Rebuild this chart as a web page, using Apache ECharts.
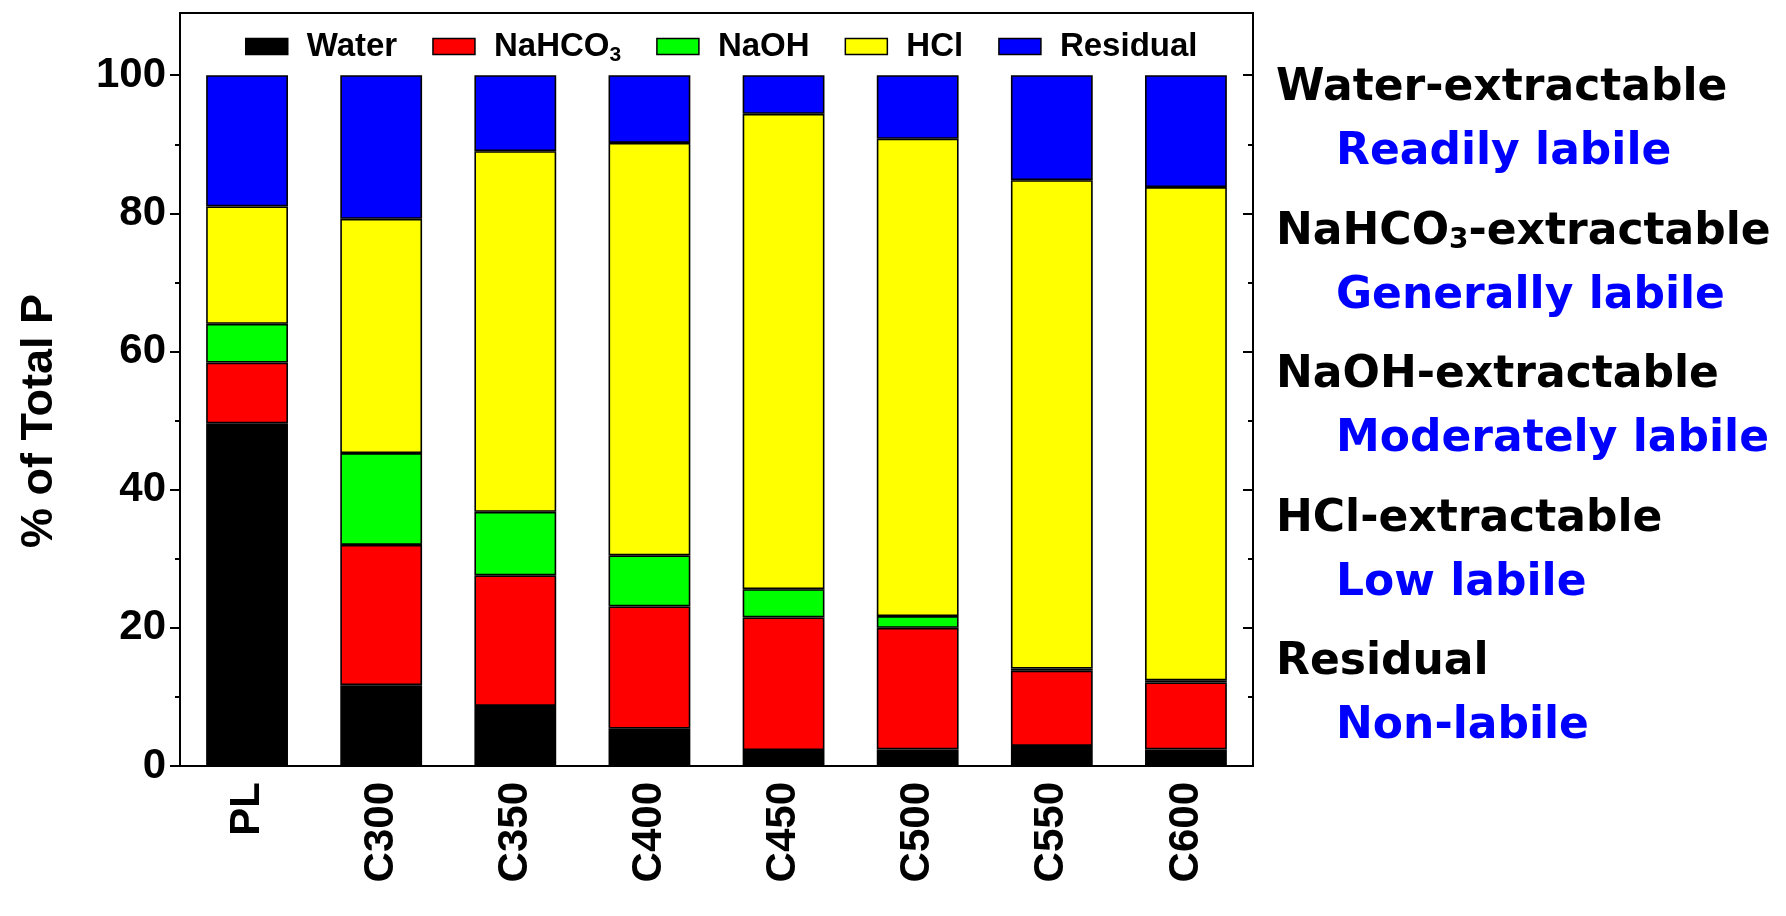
<!DOCTYPE html>
<html>
<head>
<meta charset="utf-8">
<script src="https://cdn.jsdelivr.net/npm/echarts@6/dist/echarts.min.js"></script>
<style>
html,body{margin:0;padding:0;background:#fff;}
#chart{width:1786px;height:916px;}
</style>
</head>
<body>
<div id="chart"></div>
<script>
const categories = ['PL', 'C300', 'C350', 'C400', 'C450', 'C500', 'C550', 'C600'];
const water    = [49.6, 11.7,  8.7,  5.4,  2.3,  2.4,  2.9,  2.4];
const nahco3   = [ 8.8, 20.3, 18.9, 17.7, 19.2, 17.6, 10.9,  9.7];
const naoh     = [ 5.6, 13.3,  9.2,  7.4,  4.1,  1.7,  0.3,  0.3];
const hcl      = [17.0, 33.9, 52.2, 59.7, 68.8, 69.1, 70.7, 71.4];
const residual = [19.0, 20.8, 11.0,  9.8,  5.6,  9.2, 15.2, 16.2];
const majorTicks = [0, 20, 40, 60, 80, 100];
const minorTicks = [10, 30, 50, 70, 90];
const sideNotes = [
  ['Water-extractable', 'Readily labile'],
  ['NaHCO{s|3}-extractable', 'Generally labile'],
  ['NaOH-extractable', 'Moderately labile'],
  ['HCl-extractable', 'Low labile'],
  ['Residual', 'Non-labile']
];

const chart = echarts.init(document.getElementById('chart'));
const AR = '"Liberation Sans", Arial, sans-serif';
const DJ = '"DejaVu Sans", sans-serif';

function barSeries(name, data, color) {
  return {
    name: name, type: 'bar', stack: 'p', data: data, barWidth: '61%',
    itemStyle: { color: color, borderColor: '#000', borderWidth: 1.6 },
    emphasis: { disabled: true }
  };
}

function yAx(pos, ticks, len, inside, showLine, showLabel) {
  return {
    type: 'value', position: pos, min: 0, max: 109, interval: 20,
    axisLine: { show: showLine, onZero: false, lineStyle: { color: '#000', width: 2 } },
    axisTick: { show: true, inside: inside, length: len, customValues: ticks, lineStyle: { color: '#000', width: 2 } },
    axisLabel: { show: showLabel, customValues: majorTicks, fontFamily: AR, fontWeight: 'bold', fontSize: 42, color: '#000', margin: 14 },
    splitLine: { show: false }
  };
}

const graphics = [];
sideNotes.forEach(function (p, i) {
  const y0 = 89 + i * 143.5;
  graphics.push({
    type: 'text', x: 1276, y: y0,
    style: {
      text: p[0], fill: '#000', font: 'bold 44px ' + DJ, align: 'left', verticalAlign: 'middle',
      rich: { s: { font: 'bold 28px ' + DJ, fill: '#000', lineHeight: 6, verticalAlign: 'bottom' } }
    }
  });
  graphics.push({
    type: 'text', x: 1336, y: y0 + 64,
    style: { text: p[1], fill: '#0000ff', font: 'bold 44px ' + DJ, align: 'left', verticalAlign: 'middle' }
  });
});
graphics.push({
  type: 'text', x: 40, y: 421, rotation: Math.PI / 2,
  style: { text: '% of Total P', fill: '#000', font: 'bold 45px ' + AR, align: 'center', verticalAlign: 'middle' }
});

const option = {
  animation: false,
  backgroundColor: '#fff',
  grid: { left: 180, top: 13, width: 1073, height: 753, show: true, borderColor: '#000', borderWidth: 2, backgroundColor: 'transparent' },
  legend: {
    left: 240, top: 25, itemWidth: 42, itemHeight: 16, itemGap: 35, selectedMode: false,
    icon: 'rect',
    itemStyle: { borderColor: '#000', borderWidth: 1.5 },
    textStyle: {
      fontFamily: AR, fontWeight: 'bold', fontSize: 33, color: '#000', padding: [0, 0, 0, 14],
      rich: { s: { fontFamily: AR, fontWeight: 'bold', fontSize: 21, color: '#000', lineHeight: 20, verticalAlign: 'bottom' },
              a: { fontFamily: AR, fontWeight: 'bold', fontSize: 33, color: '#000', lineHeight: 38 } }
    },
    formatter: function (n) { return n === 'NaHCO3' ? '{a|NaHCO}{s|3}' : n; },
    data: ['Water', 'NaHCO3', 'NaOH', 'HCl', 'Residual']
  },
  xAxis: {
    type: 'category', data: categories,
    axisLine: { lineStyle: { color: '#000', width: 2 } },
    axisTick: { alignWithLabel: true, length: 10, lineStyle: { color: '#000', width: 2 } },
    axisLabel: { rotate: 90, fontFamily: AR, fontWeight: 'bold', fontSize: 42, color: '#000', margin: 16 }
  },
  yAxis: [
    yAx('left', majorTicks, 10, false, true, true),
    yAx('right', majorTicks, 10, true, true, false),
    yAx('left', minorTicks, 5, false, false, false),
    yAx('right', minorTicks, 5, true, false, false)
  ],
  series: [
    barSeries('Water', water, '#000000'),
    barSeries('NaHCO3', nahco3, '#ff0000'),
    barSeries('NaOH', naoh, '#00ff00'),
    barSeries('HCl', hcl, '#ffff00'),
    barSeries('Residual', residual, '#0000ff')
  ],
  graphic: graphics
};
chart.setOption(option);
</script>
</body>
</html>
